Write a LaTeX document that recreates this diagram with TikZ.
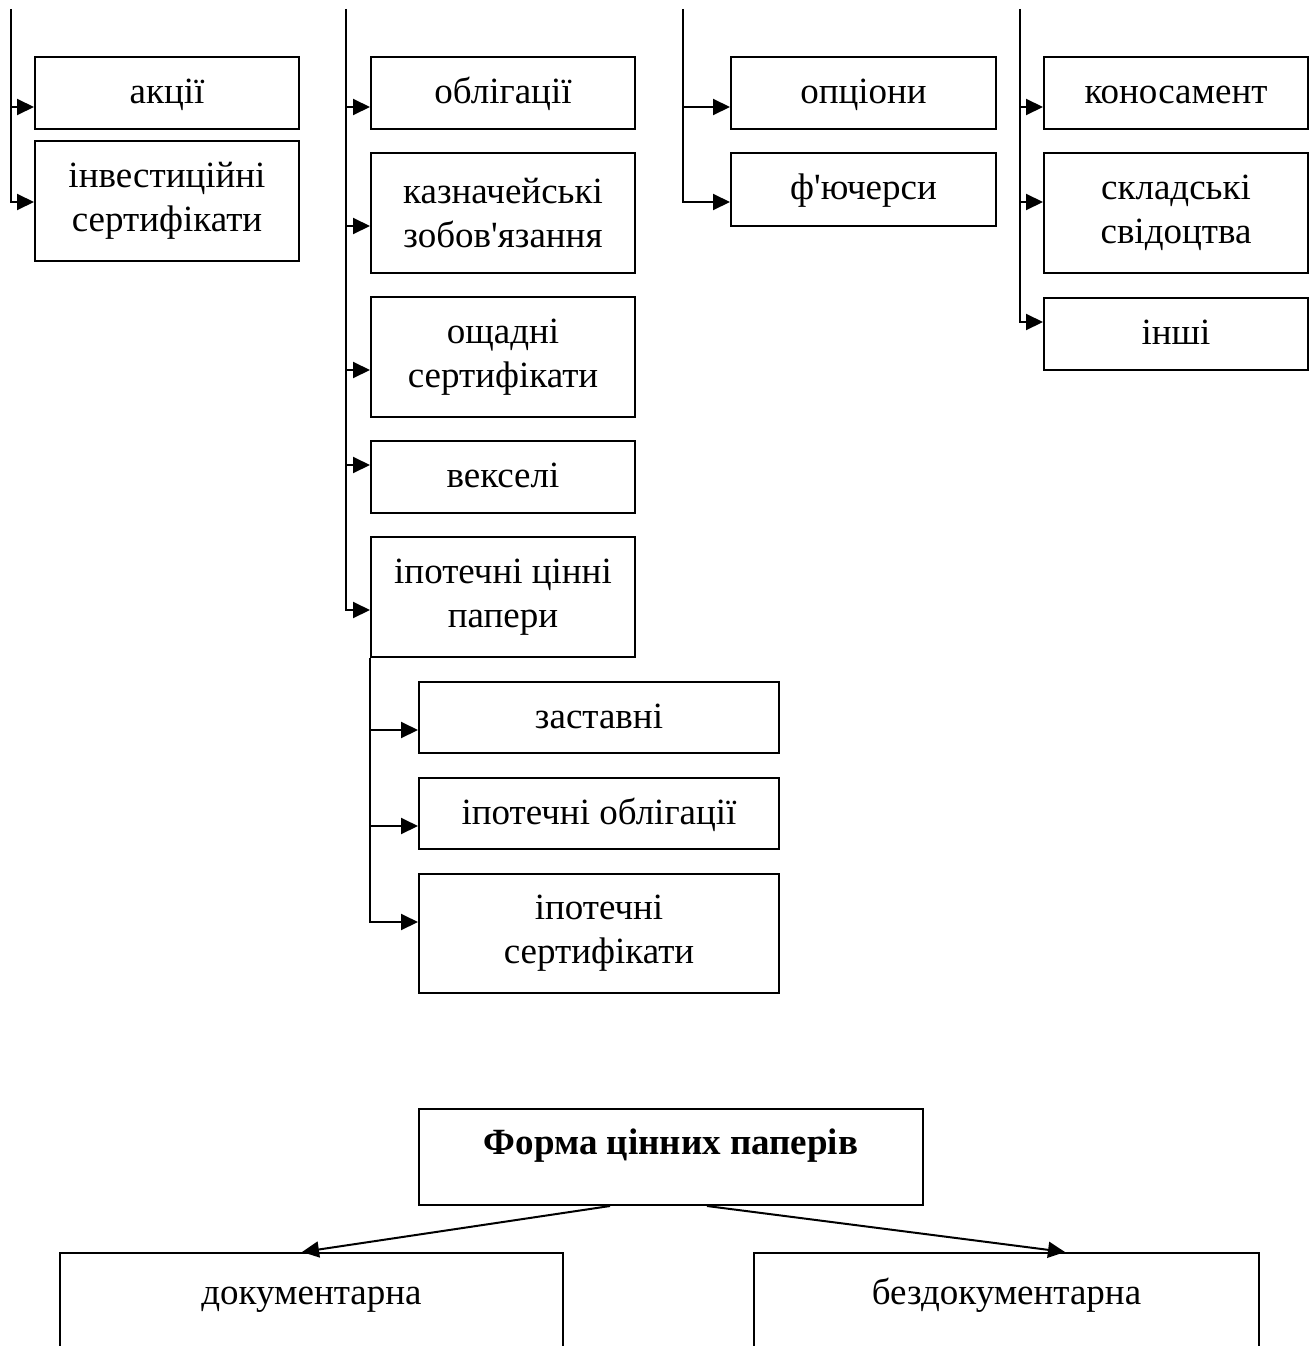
\documentclass[tikz,border=0pt]{standalone}
\usepackage{fontspec}
\setmainfont[Ligatures=TeXOff]{Liberation Serif}
\usetikzlibrary{arrows.meta}
\begin{document}
\begin{tikzpicture}[x=1pt,y=-1pt,
  box/.style={draw, line width=2pt, inner sep=0pt, align=center, font=\fontsize{37}{44}\selectfont},
  one/.style={text height=46pt, text depth=#1},
  arr/.style={line width=2pt, -{Triangle[length=17pt,width=16pt]}},
  ln/.style={line width=2pt}]
\useasboundingbox (0,0) rectangle (1315,1346);
\clip (0,0) rectangle (1315,1346);

% column 1
\node[box, one=26pt, minimum width=264pt, minimum height=72pt] (akc) at (167,93) {акції};
\node[box, minimum width=264pt, minimum height=120pt] (inv) at (167,201) {інвестиційні\\сертифікати};
\coordinate (t1) at (11,9);
\draw[arr] (t1) |- (inv.west |- 0,202);
\draw[arr] (t1 |- 0,107) -- (akc.west |- 0,107);

% column 2
\node[box, one=26pt, minimum width=264pt, minimum height=72pt] (obl) at (503,93) {облігації};
\node[box, minimum width=264pt, minimum height=120pt] (kaz) at (503,213) {казначейські\\зобов'язання};
\node[box, minimum width=264pt, minimum height=120pt] (osch) at (503,357) {ощадні\\сертифікати};
\node[box, one=26pt, minimum width=264pt, minimum height=72pt] (veks) at (503,477) {векселі};
\node[box, minimum width=264pt, minimum height=120pt] (ipcp) at (503,597) {іпотечні цінні\\папери};
\coordinate (t2) at (346,9);
\draw[arr] (t2) |- (ipcp.west |- 0,610);
\draw[arr] (t2 |- 0,107) -- (obl.west |- 0,107);
\draw[arr] (t2 |- 0,226) -- (kaz.west |- 0,226);
\draw[arr] (t2 |- 0,370) -- (osch.west |- 0,370);
\draw[arr] (t2 |- 0,465) -- (veks.west |- 0,465);

% sub column
\node[box, one=25pt, minimum width=360pt, minimum height=71pt] (zast) at (599,717.5) {заставні};
\node[box, one=25pt, minimum width=360pt, minimum height=71pt] (iobl) at (599,813.5) {іпотечні облігації};
\node[box, minimum width=360pt, minimum height=119pt] (iser) at (599,933.5) {іпотечні\\сертифікати};
\draw[arr] (ipcp.south west) |- (iser.west |- 0,922);
\draw[arr] (ipcp.south west |- 0,730) -- (zast.west |- 0,730);
\draw[arr] (ipcp.south west |- 0,826) -- (iobl.west |- 0,826);

% column 3
\node[box, one=26pt, minimum width=265pt, minimum height=72pt] (opc) at (863.5,93) {опціони};
\node[box, one=27pt, minimum width=265pt, minimum height=73pt] (fut) at (863.5,189.5) {ф'ючерси};
\coordinate (t3) at (683,9);
\draw[arr] (t3) |- (fut.west |- 0,202);
\draw[arr] (t3 |- 0,107) -- (opc.west |- 0,107);

% column 4
\node[box, one=26pt, minimum width=264pt, minimum height=72pt] (kon) at (1176,93) {коносамент};
\node[box, minimum width=264pt, minimum height=120pt] (skl) at (1176,213) {складські\\свідоцтва};
\node[box, one=26pt, minimum width=264pt, minimum height=72pt] (insh) at (1176,334) {інші};
\coordinate (t4) at (1020,9);
\draw[arr] (t4) |- (insh.west |- 0,322);
\draw[arr] (t4 |- 0,107) -- (kon.west |- 0,107);
\draw[arr] (t4 |- 0,202) -- (skl.west |- 0,202);

% bottom
\node[box, anchor=north, minimum width=504pt, text height=45pt, text depth=51pt, font=\fontsize{37}{44}\selectfont\bfseries] (form) at (671,1108) {Форма цінних паперів};
\node[box, anchor=north, minimum width=503pt, text height=51pt, text depth=150pt] (doc) at (311.5,1252) {документарна};
\node[box, anchor=north, minimum width=505pt, text height=51pt, text depth=150pt] (bezd) at (1006.5,1252) {бездокументарна};
\draw[arr] ([xshift=-61pt]form.south) -- ([xshift=-9.5pt]doc.north);
\draw[arr] ([xshift=36pt]form.south) -- ([xshift=58.5pt]bezd.north);
\end{tikzpicture}
\end{document}
